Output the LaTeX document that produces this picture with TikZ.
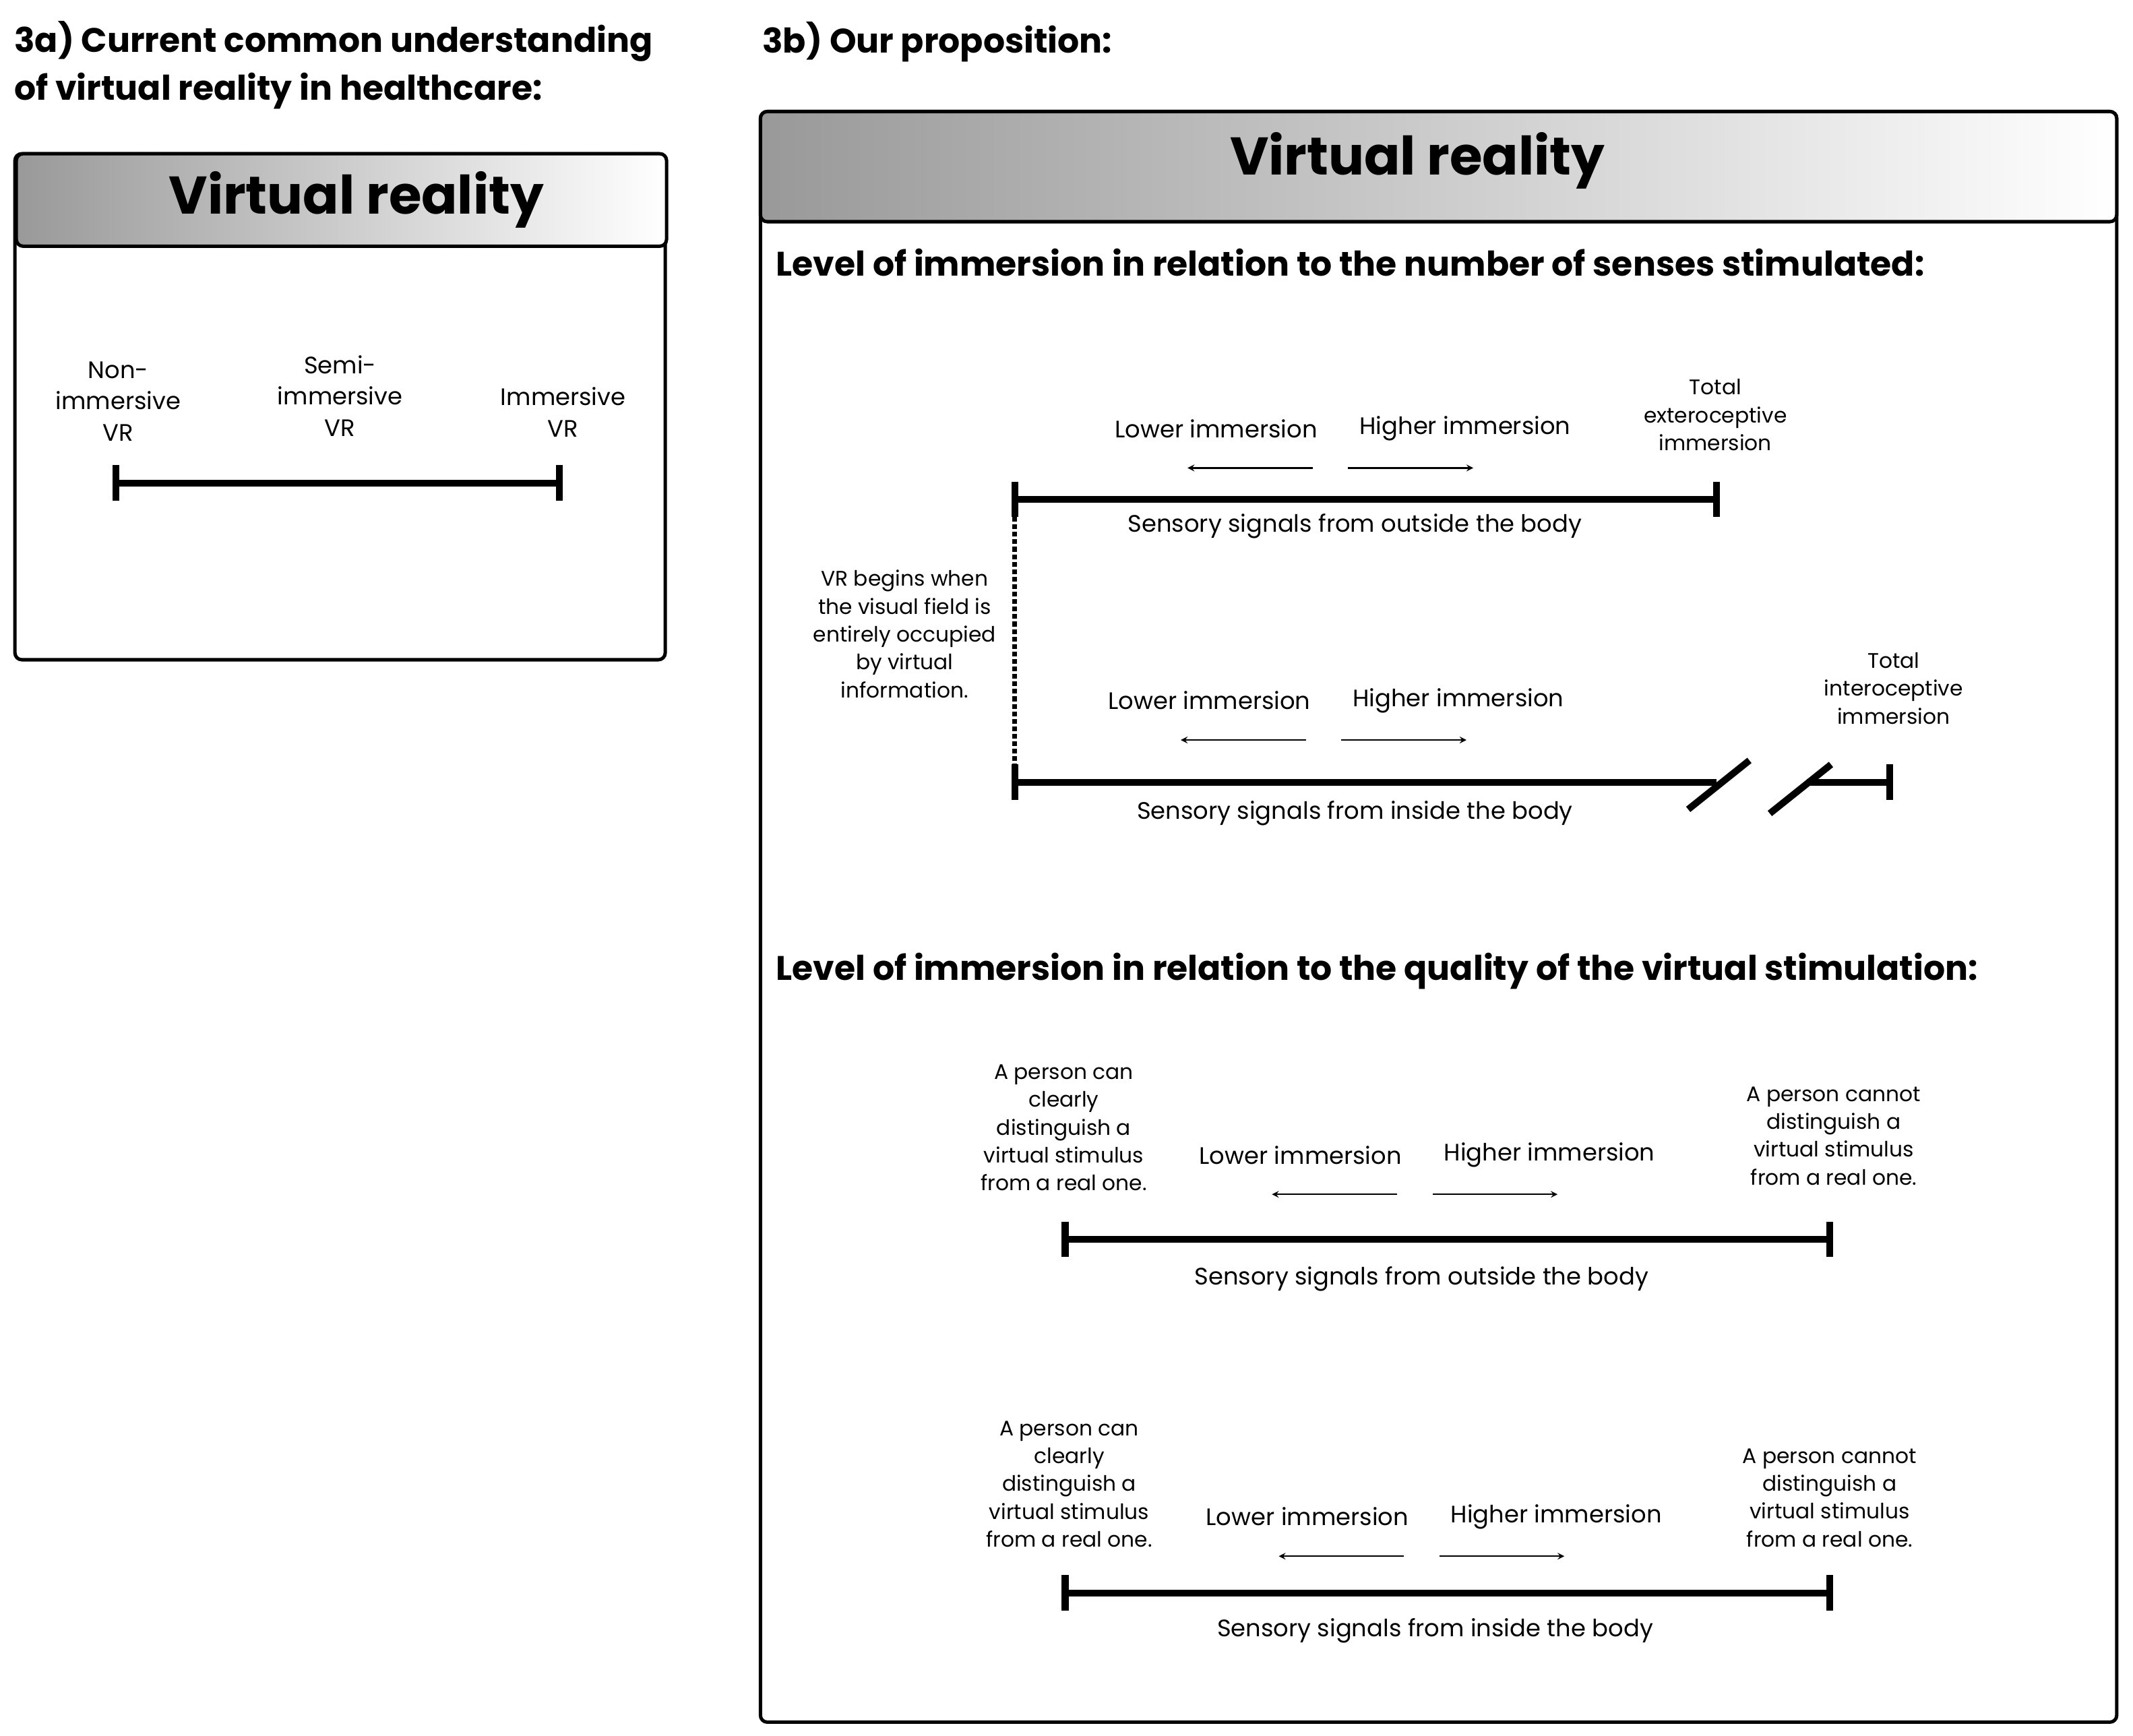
\documentclass[tikz,border=0pt]{standalone}
\usepackage{fontspec}
\setmainfont{Poppins}
\begin{document}
\begin{tikzpicture}[x=1pt,y=-1pt,
 body/.style={align=center,font=\fontsize{17.5}{23}\selectfont},
 small/.style={align=center,font=\fontsize{15.5}{20.5}\selectfont},
 head/.style={anchor=west,font=\bfseries\fontsize{25}{35}\selectfont},
 ttl/.style={font=\bfseries\fontsize{39}{45}\selectfont},
 bar/.style={line width=5pt},
 tick/.style={line width=5pt},
 arr/.style={->,line width=1.2pt,>=stealth},
 box/.style={line width=2.5pt,rounded corners=5pt}]
\useasboundingbox (0,0) rectangle (1568,1276);
% left
\node[anchor=north west,align=left,font=\bfseries\fontsize{25}{35}\selectfont] (h3a) at (7,12) {3a) Current common understanding\\of virtual reality in healthcare:};
\node[anchor=west,font=\bfseries\fontsize{25}{35}\selectfont] (h3b) at (557,31) {3b) Our proposition:};
\draw[box] (11,113) rectangle (489,485);
\shade[left color=black!40,right color=white,rounded corners=5pt] (12,113) rectangle (490,181);
\draw[box] (12,113) rectangle (490,181);
\node[ttl] (t1) at (262,147) {Virtual reality};
\node[body] (l1) at (87,295) {Non-\\immersive\\VR};
\node[body] (l2) at (250,291) {Semi-\\immersive\\VR};
\node[body] (l3) at (414,303) {Immersive\\VR};
\coordinate (a1) at (85,355); \coordinate (a2) at (411,355);
\draw[bar] (a1) -- (a2);
\draw[tick] (85,342) -- (85,368); \draw[tick] (411,342) -- (411,368);
% right
\draw[box] (559,82) rectangle (1556,1266);
\shade[left color=black!40,right color=white,rounded corners=5pt] (559,82) rectangle (1556,163);
\draw[box] (559,82) rectangle (1556,163);
\node[ttl] (t2) at (1042,118) {Virtual reality};
\node[head] (hd1) at (567,193) {Level of immersion in relation to the number of senses stimulated:};
\node[head] (hd2) at (567,714) {Level of immersion in relation to the quality of the virtual stimulation:};
% line 1
\coordinate (b1) at (746,367); \coordinate (b2) at (1262,367);
\draw[bar] (b1) -- (b2);
\draw[tick] (746,354) -- (746,380); \draw[tick] (1262,354) -- (1262,380);
\node[body] (lo1) at (894,315) {Lower immersion};
\node[body] (hi1) at (1077,315) {Higher immersion};
\draw[arr] (965,344) -- (873,344); \draw[arr] (991,344) -- (1083,344);
\node[small] (te) at (1261,305) {Total\\exteroceptive\\immersion};
\node[body] (s1) at (996,387) {Sensory signals from outside the body};
% dotted
\coordinate (c1) at (746,380); \coordinate (c2) at (746,562);
\draw[line width=3.5pt,dotted] (c1) -- (c2);
\node[small] (vr) at (665,466) {VR begins when\\the visual field is\\entirely occupied\\by virtual\\information.};
% line 2
\coordinate (d1) at (746,575); \coordinate (d2) at (1262,575);
\draw[bar] (d1) -- (d2);
\draw[tick] (746,562) -- (746,588);
\draw[tick] (1241,595) -- (1286,559); \draw[tick] (1301,598) -- (1346,562);
\coordinate (d3) at (1328,575); \coordinate (d4) at (1389,575);
\draw[bar] (d3) -- (d4); \draw[tick] (1389,562) -- (1389,588);
\node[body] (lo2) at (889,515) {Lower immersion};
\node[body] (hi2) at (1072,515) {Higher immersion};
\draw[arr] (960,544) -- (868,544); \draw[arr] (986,544) -- (1078,544);
\node[small] (ti) at (1392,506) {Total\\interoceptive\\immersion};
\node[body] (s2) at (996,598) {Sensory signals from inside the body};
% line 3
\coordinate (e1) at (783,911); \coordinate (e2) at (1345,911);
\draw[bar] (e1) -- (e2);
\draw[tick] (783,898) -- (783,924); \draw[tick] (1345,898) -- (1345,924);
\node[body] (lo3) at (956,849) {Lower immersion};
\node[body] (hi3) at (1139,849) {Higher immersion};
\draw[arr] (1027,878) -- (935,878); \draw[arr] (1053,878) -- (1145,878);
\node[small] (pl3) at (782,829) {A person can\\clearly\\distinguish a\\virtual stimulus\\from a real one.};
\node[small] (pr3) at (1348,835) {A person cannot\\distinguish a\\virtual stimulus\\from a real one.};
\node[body] (s3) at (1045,940) {Sensory signals from outside the body};
% line 4
\coordinate (f1) at (783,1171); \coordinate (f2) at (1345,1171);
\draw[bar] (f1) -- (f2);
\draw[tick] (783,1158) -- (783,1184); \draw[tick] (1345,1158) -- (1345,1184);
\node[body] (lo4) at (961,1115) {Lower immersion};
\node[body] (hi4) at (1144,1115) {Higher immersion};
\draw[arr] (1032,1144) -- (940,1144); \draw[arr] (1058,1144) -- (1150,1144);
\node[small] (pl4) at (786,1091) {A person can\\clearly\\distinguish a\\virtual stimulus\\from a real one.};
\node[small] (pr4) at (1345,1101) {A person cannot\\distinguish a\\virtual stimulus\\from a real one.};
\node[body] (s4) at (1055,1199) {Sensory signals from inside the body};
\end{tikzpicture}
\end{document}
